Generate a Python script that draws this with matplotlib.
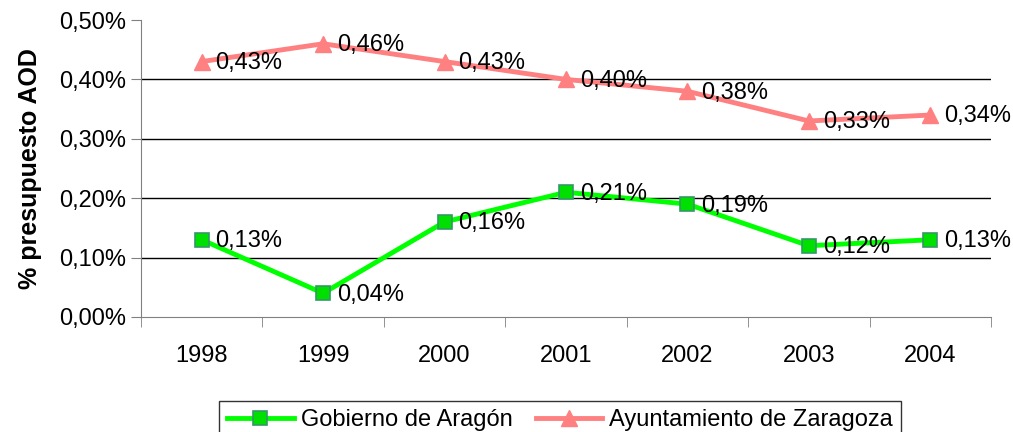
import matplotlib
matplotlib.use('Agg')
import matplotlib.pyplot as plt
import numpy as np

plt.rcParams['font.family'] = ['Liberation Sans', 'DejaVu Sans']

years = ['1998', '1999', '2000', '2001', '2002', '2003', '2004']
gobierno = [0.13, 0.04, 0.16, 0.21, 0.19, 0.12, 0.13]
ayuntamiento = [0.43, 0.46, 0.43, 0.40, 0.38, 0.33, 0.34]
yticks = [0.0, 0.1, 0.2, 0.3, 0.4, 0.5]

fig = plt.figure(figsize=(10.13, 4.32), dpi=100)
ax = fig.add_axes([141 / 1013, 1 - 317 / 432, 850 / 1013, 297 / 432])

x = np.arange(len(years))
ax.plot(x, gobierno, color='#00FF00', lw=3.5, marker='s', ms=10,
        mfc='#00E000', mec='#339966', mew=1.2, label='Gobierno de Aragón', zorder=3)
ax.plot(x, ayuntamiento, color='#FF8080', lw=3.5, marker='^', ms=12,
        mfc='#FF8080', mec='#FF8080', label='Ayuntamiento de Zaragoza', zorder=3)

for xi, v in zip(x, gobierno):
    ax.annotate(('%.2f%%' % v).replace('.', ','), (xi, v), xytext=(10, -1),
                textcoords='offset points', va='center', ha='left', fontsize=17)
for xi, v in zip(x, ayuntamiento):
    ax.annotate(('%.2f%%' % v).replace('.', ','), (xi, v), xytext=(10, -1),
                textcoords='offset points', va='center', ha='left', fontsize=17)

ax.set_xlim(-0.5, len(years) - 0.5)
ax.set_ylim(0, 0.5)
ax.set_yticks(yticks)
ax.set_yticklabels([('%.2f%%' % t).replace('.', ',') for t in yticks], fontsize=17)
ax.hlines(yticks[1:-1], -0.5, len(years) - 0.5, color='black', lw=1, zorder=1)

ax.set_xticks(x)
ax.set_xticklabels(years, fontsize=17)
ax.set_xticks(np.arange(-0.5, len(years)), minor=True)
ax.tick_params(axis='x', which='major', length=0, pad=20)
ax.tick_params(axis='x', which='minor', length=7, color='#808080')
ax.tick_params(axis='y', length=7, color='#808080', pad=4)

for s in ['top', 'right']:
    ax.spines[s].set_visible(False)
for s in ['left', 'bottom']:
    ax.spines[s].set_color('#808080')

ax.set_ylabel('% presupuesto AOD', fontsize=18, fontweight='bold', labelpad=12)

leg = fig.legend(loc='lower center', bbox_to_anchor=(0.553, -0.045), ncol=2,
                 fontsize=17, frameon=True, fancybox=False, edgecolor='black',
                 handlelength=2.8, handletextpad=0.3, columnspacing=1.0,
                 borderpad=0.35)
leg.get_frame().set_linewidth(1)

fig.savefig('out.png', dpi=100)
